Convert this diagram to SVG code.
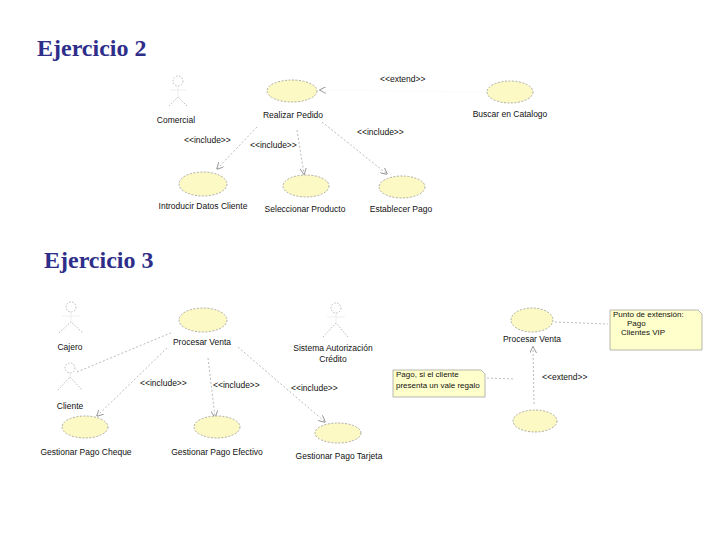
<svg xmlns="http://www.w3.org/2000/svg" width="720" height="540" viewBox="0 0 720 540">
<defs>
<marker id="arr" viewBox="0 0 10 10" refX="9" refY="5" markerWidth="7" markerHeight="7" orient="auto" markerUnits="userSpaceOnUse">
<path d="M0,0 L10,5 L0,10" fill="none" stroke="#888" stroke-width="1.2"/>
</marker>
</defs>
<style>
.title{font-family:"Liberation Serif","Times New Roman",serif;font-size:24px;font-weight:bold;fill:#2e2e8a}
.t{font-family:"Liberation Sans",Arial,sans-serif;font-size:8.5px;fill:#111}
.n{font-family:"Liberation Sans",Arial,sans-serif;font-size:8px;fill:#111}
.uc{fill:#fdf9c4;stroke:#999;stroke-width:0.8;stroke-dasharray:2,1.5}
.act{fill:none;stroke:#aaa;stroke-width:0.8;stroke-dasharray:1.5,1.5}
.actf{fill:none;stroke:#e4e4e4;stroke-width:0.6}
.c{fill:none;stroke:#aaa;stroke-width:0.8;stroke-dasharray:2,2}
.cf{fill:none;stroke:#efefef;stroke-width:0.5;stroke-dasharray:2,2}
.note{fill:#ffffcc;stroke:#999;stroke-width:0.7}
</style>
<rect width="720" height="540" fill="#ffffff"/>
<text class="title" x="37" y="56">Ejercicio 2</text>
<text class="title" x="44" y="268">Ejercicio 3</text>

<g id="connectors">
<line class="cf" x1="487" y1="92" x2="320" y2="90" marker-end="url(#arr)"/>
<line class="c" x1="257" y1="127" x2="217" y2="169" marker-end="url(#arr)"/>
<line class="c" x1="297" y1="130" x2="304" y2="174" marker-end="url(#arr)"/>
<line class="c" x1="322" y1="122" x2="387" y2="174" marker-end="url(#arr)"/>
<line class="c" x1="77" y1="372" x2="173" y2="332"/>
<line class="c" x1="167" y1="348" x2="97" y2="416" marker-end="url(#arr)"/>
<line class="c" x1="208" y1="358" x2="215" y2="417" marker-end="url(#arr)"/>
<line class="c" x1="238" y1="347" x2="325" y2="422" marker-end="url(#arr)"/>
<line class="c" x1="555" y1="322" x2="608" y2="324"/>
<line class="c" x1="487" y1="378" x2="515" y2="379"/>
<line class="c" x1="534" y1="404" x2="533" y2="347" marker-end="url(#arr)"/>
<text class="t" x="380" y="82">&lt;&lt;extend&gt;&gt;</text>
<text class="t" x="184" y="143">&lt;&lt;include&gt;&gt;</text>
<text class="t" x="250" y="148">&lt;&lt;include&gt;&gt;</text>
<text class="t" x="357" y="135">&lt;&lt;include&gt;&gt;</text>
<text class="t" x="140" y="386">&lt;&lt;include&gt;&gt;</text>
<text class="t" x="213" y="388">&lt;&lt;include&gt;&gt;</text>
<text class="t" x="291" y="391">&lt;&lt;include&gt;&gt;</text>
<text class="t" x="542" y="380">&lt;&lt;extend&gt;&gt;</text>
</g>

<g id="comercial">
<circle class="act" cx="178" cy="81" r="5"/>
<line class="actf" x1="178" y1="86" x2="178" y2="97"/>
<line class="actf" x1="170" y1="90" x2="186" y2="90"/>
<path class="act" d="M169,106 L178,97 L187,106"/>
<text class="t" x="176" y="123" text-anchor="middle">Comercial</text>
</g>
<g id="realizar-pedido">
<ellipse class="uc" cx="292" cy="91" rx="25" ry="11"/>
<text class="t" x="293" y="118" text-anchor="middle">Realizar Pedido</text>
</g>
<g id="buscar-catalogo">
<ellipse class="uc" cx="510" cy="92" rx="23" ry="11"/>
<text class="t" x="510" y="117" text-anchor="middle">Buscar en Catalogo</text>
</g>
<g id="introducir-datos">
<ellipse class="uc" cx="203" cy="184" rx="24" ry="12"/>
<text class="t" x="203" y="209" text-anchor="middle">Introducir Datos Cliente</text>
</g>
<g id="seleccionar-producto">
<ellipse class="uc" cx="306" cy="186" rx="23" ry="11"/>
<text class="t" x="305" y="212" text-anchor="middle">Seleccionar Producto</text>
</g>
<g id="establecer-pago">
<ellipse class="uc" cx="402" cy="187" rx="23" ry="11"/>
<text class="t" x="401" y="212" text-anchor="middle">Establecer Pago</text>
</g>

<g id="cajero">
<circle class="act" cx="71" cy="307" r="5"/>
<line class="actf" x1="71" y1="312" x2="71" y2="322"/>
<line class="actf" x1="62" y1="316" x2="80" y2="316"/>
<path class="act" d="M59,333 L71,322 L83,333"/>
<text class="t" x="70" y="350" text-anchor="middle">Cajero</text>
</g>
<g id="cliente">
<circle class="act" cx="70" cy="368" r="5"/>
<line class="actf" x1="70" y1="373" x2="70" y2="378"/>
<path class="act" d="M58,390 L70,377 L82,390"/>
<text class="t" x="70" y="409" text-anchor="middle">Cliente</text>
</g>
<g id="procesar-venta">
<ellipse class="uc" cx="203" cy="320" rx="24" ry="12"/>
<text class="t" x="202" y="345" text-anchor="middle">Procesar Venta</text>
</g>
<g id="sistema-credito">
<circle class="act" cx="336" cy="308" r="5"/>
<line class="actf" x1="336" y1="313" x2="336" y2="323"/>
<line class="actf" x1="327" y1="317" x2="345" y2="317"/>
<path class="act" d="M323,337 L336,323 L348,337"/>
<text class="t" x="333" y="351" text-anchor="middle">Sistema Autorización</text>
<text class="t" x="333" y="362" text-anchor="middle">Crédito</text>
</g>
<g id="pago-cheque">
<ellipse class="uc" cx="85" cy="427" rx="23" ry="11"/>
<text class="t" x="86" y="455" text-anchor="middle">Gestionar Pago Cheque</text>
</g>
<g id="pago-efectivo">
<ellipse class="uc" cx="217" cy="427" rx="23" ry="11"/>
<text class="t" x="217" y="455" text-anchor="middle">Gestionar Pago Efectivo</text>
</g>
<g id="pago-tarjeta">
<ellipse class="uc" cx="338" cy="433" rx="23" ry="10"/>
<text class="t" x="339" y="459" text-anchor="middle">Gestionar Pago Tarjeta</text>
</g>

<g id="procesar-venta-2">
<ellipse class="uc" cx="532" cy="320" rx="21" ry="12"/>
<text class="t" x="532" y="342" text-anchor="middle">Procesar Venta</text>
</g>
<g id="nota-punto-extension">
<path class="note" d="M610,310 L698,310 L702,314 L702,350 L610,350 Z"/>
<text class="n" x="613" y="317">Punto de extensión:</text>
<text class="n" x="627" y="326">Pago</text>
<text class="n" x="621" y="335">Clientes VIP</text>
</g>
<g id="nota-vale-regalo">
<path class="note" d="M393,370 L481,370 L485,374 L485,397 L393,397 Z"/>
<text class="n" x="396" y="377">Pago, si el cliente</text>
<text class="n" x="396" y="388">presenta un vale regalo</text>
</g>
<g id="caso-extension">
<ellipse class="uc" cx="535" cy="421" rx="22" ry="11"/>
</g>
</svg>
